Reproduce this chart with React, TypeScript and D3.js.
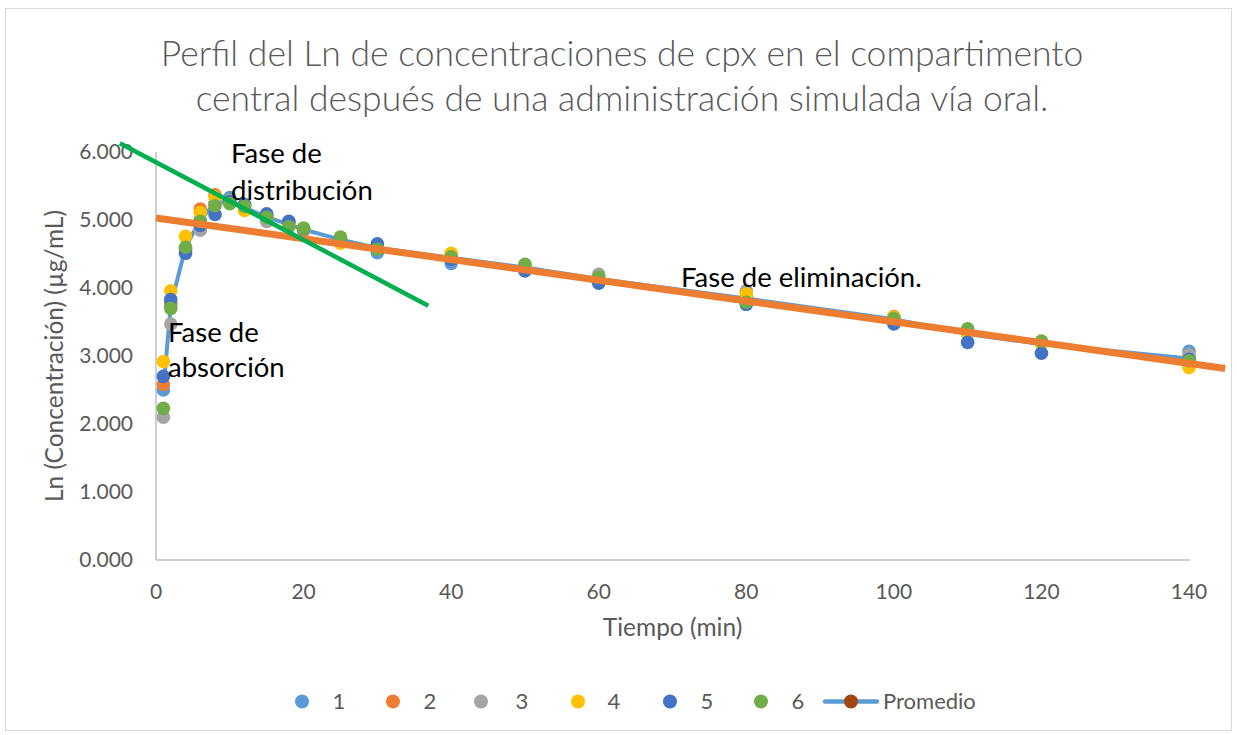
import React from "react";
import * as d3 from "d3";

const times = [1, 2, 4, 6, 8, 10, 12, 15, 18, 20, 25, 30, 40, 50, 60, 80, 100, 110, 120, 140];
const s1 = [2.50, 3.75, 4.55, 5.00, 5.25, 5.33, 5.20, 5.07, 4.95, 4.85, 4.70, 4.52, 4.36, 4.27, 4.10, 3.80, 3.52, 3.33, 3.20, 3.07];
const s2 = [2.58, 3.78, 4.58, 5.16, 5.37, 5.26, 5.15, 5.03, 4.93, 4.86, 4.71, 4.58, 4.45, 4.30, 4.12, 3.86, 3.58, 3.35, 3.20, 2.97];
const s3 = [2.10, 3.47, 4.58, 4.85, 5.24, 5.25, 5.18, 4.98, 4.92, 4.84, 4.72, 4.60, 4.47, 4.31, 4.20, 3.96, 3.55, 3.34, 3.21, 3.02];
const s4 = [2.92, 3.96, 4.76, 5.11, 5.34, 5.28, 5.14, 5.05, 4.94, 4.86, 4.66, 4.61, 4.51, 4.33, 4.14, 3.91, 3.57, 3.33, 3.18, 2.83];
const s5 = [2.70, 3.83, 4.51, 4.92, 5.08, 5.27, 5.23, 5.09, 4.98, 4.87, 4.73, 4.65, 4.42, 4.25, 4.07, 3.76, 3.47, 3.20, 3.04, 2.95];
const s6 = [2.23, 3.70, 4.60, 4.98, 5.21, 5.24, 5.20, 5.04, 4.90, 4.88, 4.75, 4.57, 4.46, 4.35, 4.16, 3.79, 3.55, 3.40, 3.22, 2.93];
const seriesNames = ["1", "2", "3", "4", "5", "6"];
const seriesColors = ["#5B9BD5", "#ED7D31", "#A5A5A5", "#FFC000", "#4472C4", "#70AD47"];
const allSeries = [s1, s2, s3, s4, s5, s6];
const promedioName = "Promedio";
const promedioLineColor = "#5B9BD5";
const promedioMarkerColor = "#9E480E";

// linear trendline (elimination phase)
const trendIntercept = 5.03;
const trendSlope = -0.01527;
const trendX = [0, 144.9];
// hand-drawn distribution line endpoints (data coords)
const distLineX = [-4.9, 36.9];
const distLineY = [6.13, 3.74];

const yTicks = [0, 1, 2, 3, 4, 5, 6];
const xTicks = [0, 20, 40, 60, 80, 100, 120, 140];

const titleLines = [
  "Perfil del Ln de concentraciones de cpx en el compartimento",
  "central después de una administración simulada vía oral.",
];

const FONT = "Lato, 'Open Sans', sans-serif";

export default function App() {
  const W = 1237, H = 735;
  const x = d3.scaleLinear().domain([0, 140]).range([156, 1189]);
  const y = d3.scaleLinear().domain([0, 6]).range([560, 152]);

  const promedio = times.map((t, i) => ({ t, v: d3.mean(allSeries, (s) => s[i]) as number }));
  const line = d3.line<{ t: number; v: number }>().x((d) => x(d.t)).y((d) => y(d.v));

  const legendMarkerX = [302, 393, 481, 578, 670, 761];
  const legendLabelX = [339, 430, 522, 614, 707, 798];
  const gray = "#595959";
  const annFs = 27.5;

  return (
    <div style={{ position: "absolute", left: 0, top: 0 }}>
      <svg width={W} height={H} style={{ display: "block", fontFamily: FONT }}>
        <rect x={0} y={0} width={W} height={H} fill="#fff" />
        <rect x={5.5} y={8.5} width={1226} height={722} fill="#fff" stroke="#D9D9D9" strokeWidth={1} />

        {titleLines.map((l, i) => (
          <text key={i} x={622} y={66 + i * 45} textAnchor="middle" fontSize={35.5} fill={gray} fontWeight={300}>
            {l}
          </text>
        ))}

        {/* axes */}
        <line x1={156} x2={1190} y1={y(0)} y2={y(0)} stroke="#BFBFBF" strokeWidth={1.5} />
        <line x1={156} x2={156} y1={y(0)} y2={y(6)} stroke="#BFBFBF" strokeWidth={1.5} />

        {yTicks.map((t) => (
          <text key={t} x={133} y={y(t)} dy="0.35em" textAnchor="end" fontSize={21} fill={gray}>
            {d3.format(".3f")(t)}
          </text>
        ))}
        {xTicks.map((t) => (
          <text key={t} x={x(t)} y={599} textAnchor="middle" fontSize={21} fill={gray}>
            {t}
          </text>
        ))}
        <text x={672.5} y={636} textAnchor="middle" fontSize={24.5} fill={gray}>
          Tiempo (min)
        </text>
        <text transform={`translate(63,356) rotate(-90)`} textAnchor="middle" fontSize={24.5} fill={gray}>
          Ln (Concentración) (µg/mL)
        </text>

        {/* promedio line */}
        <path d={line(promedio) || ""} fill="none" stroke={promedioLineColor} strokeWidth={4} strokeLinejoin="round" />

        {/* points */}
        {allSeries.map((s, si) => (
          <g key={si}>
            {s.map((v, i) => (
              <circle key={i} cx={x(times[i])} cy={y(v)} r={6.8} fill={seriesColors[si]} />
            ))}
          </g>
        ))}

        {/* trendline */}
        <line
          x1={x(trendX[0])}
          y1={y(trendIntercept + trendSlope * trendX[0])}
          x2={x(trendX[1])}
          y2={y(trendIntercept + trendSlope * trendX[1])}
          stroke="#ED7D31"
          strokeWidth={7}
        />
        {/* distribution line */}
        <line
          x1={x(distLineX[0])}
          y1={y(distLineY[0])}
          x2={x(distLineX[1])}
          y2={y(distLineY[1])}
          stroke="#00B050"
          strokeWidth={4.5}
        />

        {/* annotations */}
        <text x={231} y={163} fontSize={annFs} fill="#000">Fase de</text>
        <text x={231} y={200} fontSize={annFs} fill="#000">distribución</text>
        <text x={168} y={342} fontSize={annFs} fill="#000">Fase de</text>
        <text x={168} y={377} fontSize={annFs} fill="#000">absorción</text>
        <text x={681} y={287} fontSize={annFs} fill="#000">Fase de eliminación.</text>

        {/* legend */}
        {seriesNames.map((n, i) => (
          <g key={i}>
            <circle cx={legendMarkerX[i]} cy={701.5} r={7} fill={seriesColors[i]} />
            <text x={legendLabelX[i]} y={701.5} dy="0.35em" textAnchor="middle" fontSize={22} fill={gray}>
              {n}
            </text>
          </g>
        ))}
        <line x1={825} x2={877} y1={701.5} y2={701.5} stroke={promedioLineColor} strokeWidth={4.5} strokeLinecap="round" />
        <circle cx={851} cy={701.5} r={7} fill={promedioMarkerColor} />
        <text x={883} y={701.5} dy="0.35em" fontSize={22} fill={gray}>
          {promedioName}
        </text>
      </svg>
    </div>
  );
}
